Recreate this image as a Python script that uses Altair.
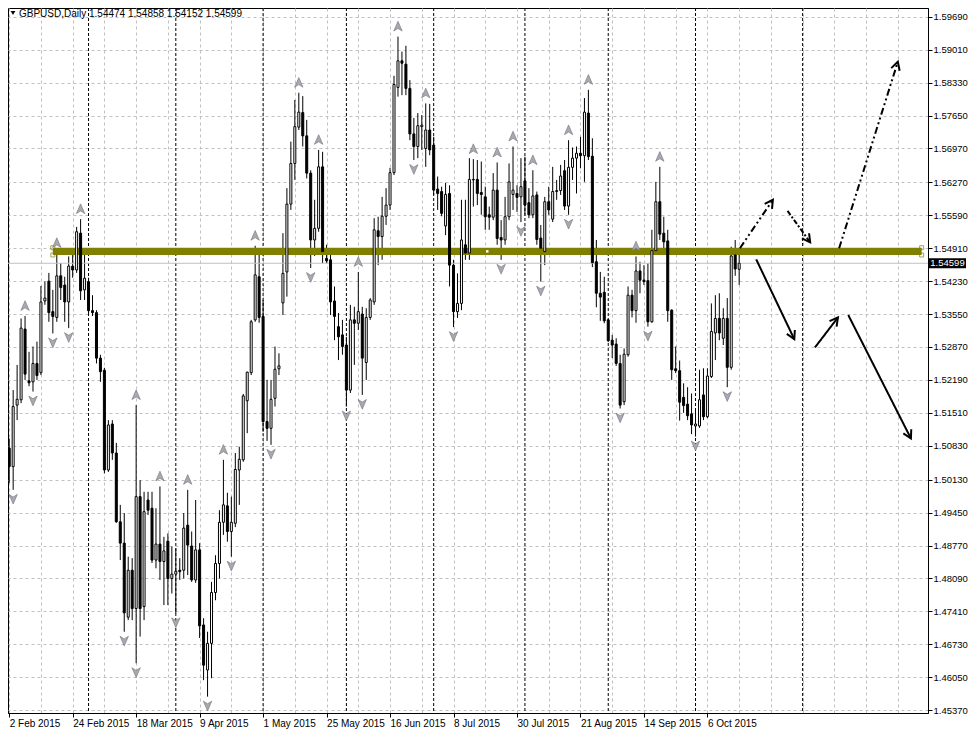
import math
import altair as alt
import pandas as pd

# ---------------- data ----------------
symbol = "GBPUSD,Daily"

opens = [1.5078, 1.5040, 1.5167, 1.5178, 1.5324, 1.5217, 1.5215, 1.5253, 1.5234, 1.5382,
         1.5423, 1.5360, 1.5348, 1.5434, 1.5415, 1.5380, 1.5454, 1.5446, 1.5522, 1.5405,
         1.5422, 1.5362, 1.5358, 1.5264, 1.5239, 1.5033, 1.5128, 1.5068, 1.4926, 1.4882,
         1.4729, 1.4826, 1.4747, 1.4978, 1.4751, 1.4971, 1.4954, 1.4847, 1.4880, 1.4844,
         1.4886, 1.4809, 1.4818, 1.4826, 1.4826, 1.4919, 1.4876, 1.4806, 1.4868, 1.4713,
         1.4620, 1.4675, 1.4780, 1.4840, 1.4925, 1.4959, 1.4906, 1.4923, 1.5033, 1.5054,
         1.5176, 1.5234, 1.5343, 1.5432, 1.5350, 1.5133, 1.5119, 1.5181, 1.5242, 1.5378,
         1.5442, 1.5582, 1.5666, 1.5741, 1.5771, 1.5723, 1.5646, 1.5508, 1.5532, 1.5659,
         1.5470, 1.5467, 1.5382, 1.5329, 1.5312, 1.5291, 1.5198, 1.5343, 1.5336, 1.5355,
         1.5255, 1.5348, 1.5380, 1.5527, 1.5515, 1.5557, 1.5580, 1.5647, 1.5823, 1.5878,
         1.5871, 1.5821, 1.5727, 1.5701, 1.5742, 1.5697, 1.5735, 1.5704, 1.5613, 1.5608,
         1.5537, 1.5604, 1.5456, 1.5360, 1.5377, 1.5498, 1.5481, 1.5632, 1.5633, 1.5606,
         1.5597, 1.5560, 1.5555, 1.5611, 1.5513, 1.5508, 1.5556, 1.5602, 1.5604, 1.5597,
         1.5630, 1.5585, 1.5560, 1.5601, 1.5512, 1.5484, 1.5587, 1.5551, 1.5608, 1.5610,
         1.5651, 1.5578, 1.5658, 1.5677, 1.5687, 1.5682, 1.5770, 1.5681, 1.5463, 1.5398,
         1.5400, 1.5343, 1.5301, 1.5293, 1.5253, 1.5174, 1.5271, 1.5394, 1.5362, 1.5444,
         1.5425, 1.5424, 1.5339, 1.5486, 1.5587, 1.5522, 1.5506, 1.5363, 1.5242, 1.5238,
         1.5183, 1.5169, 1.5149, 1.5124, 1.5124, 1.5188, 1.5143, 1.5226, 1.5316, 1.5346,
         1.5305, 1.5346, 1.5245, 1.5477, 1.54474]
highs = [1.5098, 1.5198, 1.5250, 1.5346, 1.5351, 1.5277, 1.5288, 1.5298, 1.5413, 1.5422,
         1.5440, 1.5405, 1.5481, 1.5460, 1.5432, 1.5474, 1.5481, 1.5535, 1.5551, 1.5487,
         1.5430, 1.5394, 1.5363, 1.5271, 1.5244, 1.5136, 1.5136, 1.5089, 1.4961, 1.4944,
         1.4854, 1.4851, 1.5167, 1.5012, 1.4988, 1.4988, 1.4988, 1.4954, 1.4999, 1.4895,
         1.4902, 1.4875, 1.4871, 1.4851, 1.4944, 1.4992, 1.4906, 1.4971, 1.4882, 1.4727,
         1.4699, 1.4802, 1.4857, 1.4950, 1.5054, 1.4986, 1.4978, 1.5068, 1.5081, 1.5190,
         1.5236, 1.5343, 1.5496, 1.5477, 1.5384, 1.5219, 1.5219, 1.5288, 1.5274, 1.5522,
         1.5615, 1.5711, 1.5797, 1.5812, 1.5805, 1.5756, 1.5652, 1.5591, 1.5694, 1.5690,
         1.5498, 1.5487, 1.5412, 1.5357, 1.5343, 1.5308, 1.5374, 1.5370, 1.5442, 1.5370,
         1.5367, 1.5388, 1.5553, 1.5556, 1.5597, 1.5615, 1.5657, 1.5847, 1.5928, 1.5897,
         1.5909, 1.5838, 1.5760, 1.5770, 1.5766, 1.5790, 1.5789, 1.5721, 1.5639, 1.5618,
         1.5626, 1.5621, 1.5467, 1.5439, 1.5591, 1.5591, 1.5677, 1.5675, 1.5673, 1.5670,
         1.5618, 1.5577, 1.5646, 1.5668, 1.5549, 1.5597, 1.5666, 1.5701, 1.5621, 1.5677,
         1.5680, 1.5615, 1.5652, 1.5608, 1.5539, 1.5597, 1.5618, 1.5659, 1.5632, 1.5663,
         1.5673, 1.5714, 1.5699, 1.5701, 1.5721, 1.5801, 1.5818, 1.5718, 1.5508, 1.5442,
         1.5432, 1.5345, 1.5312, 1.5305, 1.5271, 1.5284, 1.5412, 1.5405, 1.5474, 1.5463,
         1.5456, 1.5460, 1.5529, 1.5628, 1.5659, 1.5556, 1.5529, 1.5365, 1.5288, 1.5259,
         1.5212, 1.5204, 1.5191, 1.5157, 1.5240, 1.5243, 1.5243, 1.5377, 1.5394, 1.5398,
         1.5367, 1.5388, 1.5494, 1.5508, 1.54858]
lows = [1.5006, 1.4992, 1.5136, 1.5171, 1.5219, 1.5206, 1.5195, 1.5219, 1.5229, 1.5374,
        1.5339, 1.5315, 1.5339, 1.5384, 1.5339, 1.5326, 1.5430, 1.5440, 1.5384, 1.5384,
        1.5357, 1.5351, 1.5253, 1.5215, 1.5026, 1.5029, 1.5054, 1.4924, 1.4847, 1.4699,
        1.4723, 1.4723, 1.4634, 1.4689, 1.4723, 1.4940, 1.4841, 1.4830, 1.4806, 1.4754,
        1.4754, 1.4778, 1.4737, 1.4806, 1.4809, 1.4816, 1.4802, 1.4800, 1.4686, 1.4599,
        1.4565, 1.4603, 1.4764, 1.4809, 1.4899, 1.4885, 1.4854, 1.4915, 1.4961, 1.5050,
        1.5109, 1.5229, 1.5339, 1.5337, 1.5112, 1.5093, 1.5085, 1.5164, 1.5229, 1.5353,
        1.5391, 1.5570, 1.5632, 1.5735, 1.5701, 1.5635, 1.5450, 1.5475, 1.5525, 1.5460,
        1.5460, 1.5353, 1.5301, 1.5260, 1.5271, 1.5164, 1.5192, 1.5250, 1.5322, 1.5188,
        1.5219, 1.5343, 1.5374, 1.5456, 1.5467, 1.5539, 1.5570, 1.5642, 1.5804, 1.5807,
        1.5807, 1.5714, 1.5673, 1.5677, 1.5694, 1.5659, 1.5683, 1.5601, 1.5570, 1.5557,
        1.5518, 1.5412, 1.5328, 1.5347, 1.5363, 1.5467, 1.5467, 1.5577, 1.5580, 1.5560,
        1.5529, 1.5529, 1.5549, 1.5498, 1.5467, 1.5498, 1.5549, 1.5570, 1.5566, 1.5545,
        1.5560, 1.5553, 1.5553, 1.5498, 1.5422, 1.5456, 1.5560, 1.5545, 1.5591, 1.5601,
        1.5570, 1.5560, 1.5632, 1.5604, 1.5656, 1.5628, 1.5673, 1.5452, 1.5369, 1.5341,
        1.5336, 1.5297, 1.5264, 1.5248, 1.5160, 1.5167, 1.5267, 1.5348, 1.5337, 1.5398,
        1.5415, 1.5329, 1.5337, 1.5483, 1.5508, 1.5477, 1.5339, 1.5219, 1.5233, 1.5135,
        1.5151, 1.5136, 1.5107, 1.5102, 1.5120, 1.5136, 1.5140, 1.5223, 1.5260, 1.5301,
        1.5291, 1.5204, 1.5240, 1.5434, 1.54152]
closes = [1.5040, 1.5164, 1.5179, 1.5326, 1.5231, 1.5213, 1.5253, 1.5228, 1.5380, 1.5388,
          1.5358, 1.5350, 1.5434, 1.5410, 1.5380, 1.5454, 1.5446, 1.5525, 1.5403, 1.5429,
          1.5362, 1.5358, 1.5264, 1.5236, 1.5033, 1.5126, 1.5068, 1.4926, 1.4882, 1.4738,
          1.4826, 1.4747, 1.4978, 1.4747, 1.4947, 1.4950, 1.4847, 1.4880, 1.4844, 1.4866,
          1.4809, 1.4818, 1.4824, 1.4823, 1.4913, 1.4878, 1.4806, 1.4868, 1.4711, 1.4630,
          1.4675, 1.4780, 1.4840, 1.4925, 1.4961, 1.4906, 1.4925, 1.5034, 1.5055, 1.5186,
          1.5235, 1.5339, 1.5436, 1.5348, 1.5133, 1.5119, 1.5179, 1.5241, 1.5248, 1.5439,
          1.5582, 1.5666, 1.5742, 1.5772, 1.5723, 1.5646, 1.5508, 1.5532, 1.5659, 1.5484,
          1.5465, 1.5380, 1.5350, 1.5308, 1.5288, 1.5198, 1.5343, 1.5336, 1.5360, 1.5264,
          1.5348, 1.5384, 1.5529, 1.5515, 1.5557, 1.5580, 1.5647, 1.5829, 1.5878, 1.5873,
          1.5821, 1.5727, 1.5701, 1.5744, 1.5745, 1.5735, 1.5694, 1.5611, 1.5604, 1.5563,
          1.5602, 1.5456, 1.5360, 1.5377, 1.5508, 1.5481, 1.5633, 1.5633, 1.5604, 1.5602,
          1.5556, 1.5555, 1.5611, 1.5511, 1.5508, 1.5556, 1.5628, 1.5611, 1.5596, 1.5618,
          1.5580, 1.5560, 1.5599, 1.5509, 1.5491, 1.5587, 1.5570, 1.5608, 1.5610, 1.5640,
          1.5578, 1.5658, 1.5677, 1.5687, 1.5682, 1.5772, 1.5680, 1.5461, 1.5398, 1.5390,
          1.5341, 1.5300, 1.5291, 1.5253, 1.5167, 1.5272, 1.5394, 1.5362, 1.5444, 1.5425,
          1.5422, 1.5339, 1.5486, 1.5587, 1.5520, 1.5504, 1.5362, 1.5240, 1.5238, 1.5173,
          1.5166, 1.5145, 1.5126, 1.5128, 1.5178, 1.5143, 1.5227, 1.5319, 1.5346, 1.5316,
          1.5346, 1.5245, 1.5475, 1.5448, 1.54599]

fractal_up_bars = [4, 12, 18, 32, 38, 45, 54, 62, 73, 78, 88, 98, 105, 117, 123, 127,
                   132, 141, 146, 158, 164]
fractal_down_bars = [1, 6, 11, 15, 29, 32, 42, 50, 56, 66, 76, 85, 89, 102, 112, 124,
                     129, 134, 141, 154, 161, 173, 181]

date_label_bars = [0, 16, 32, 48, 64, 80, 96, 112, 128, 144, 160, 176]
date_label_texts = ["2 Feb 2015", "24 Feb 2015", "18 Mar 2015", "9 Apr 2015", "1 May 2015",
                    "25 May 2015", "16 Jun 2015", "8 Jul 2015", "30 Jul 2015", "21 Aug 2015",
                    "14 Sep 2015", "6 Oct 2015"]
price_ticks = [1.59690, 1.59010, 1.58330, 1.57650, 1.56970, 1.56270, 1.55590, 1.54910,
               1.54230, 1.53550, 1.52870, 1.52190, 1.51510, 1.50830, 1.50130, 1.49450,
               1.48770, 1.48090, 1.47410, 1.46730, 1.46050, 1.45370]
grid_bars = list(range(0, 233, 8))
month_start_bars = [20, 42, 64, 85, 107, 130, 151, 173, 200]

# horizontal level (olive band) and its handles
level_start, level_end = 11, 230
level_top, level_bottom = 1.5492, 1.5477

# drawn arrows: start (bar, price) -> end (bar, price), line style
arrow_x1 = [184.2, 196.2, 209.2, 188.3, 203.1, 211.5]
arrow_p1 = [1.5491, 1.5568, 1.5491, 1.5468, 1.5286, 1.5353]
arrow_x2 = [192.5, 201.9, 224.0, 197.9, 208.9, 227.3]
arrow_p2 = [1.5591, 1.5503, 1.5876, 1.5303, 1.5348, 1.5098]
arrow_style = ["dashdot", "dash", "dashdot", "solid", "solid", "solid"]

# ---------------- layout ----------------
W, H = 920, 705
PAD_R, PAD_B = 40, 18
x_dom = [-0.3, 231.6]
y_dom = [1.45312, 1.59870]
FONT = "Liberation Sans"
xs = alt.Scale(domain=x_dom, nice=False, zero=False, padding=0)
ys = alt.Scale(domain=y_dom, nice=False, zero=False, padding=0)

n = len(opens)
candles = pd.DataFrame({"i": list(range(n)), "o": opens, "h": highs, "l": lows, "c": closes})
fu = pd.DataFrame({"i": fractal_up_bars, "p": [highs[k] for k in fractal_up_bars]})
fd = pd.DataFrame({"i": fractal_down_bars, "p": [lows[k] for k in fractal_down_bars]})

arr_lines, heads = [], []
ppb = W / (x_dom[1] - x_dom[0])
ppp = H / (y_dom[1] - y_dom[0])
for k in range(len(arrow_x1)):
    arr_lines.append({"id": k, "ord": 0, "x": arrow_x1[k], "p": arrow_p1[k], "s": arrow_style[k]})
    arr_lines.append({"id": k, "ord": 1, "x": arrow_x2[k], "p": arrow_p2[k], "s": arrow_style[k]})
    dx = (arrow_x2[k] - arrow_x1[k]) * ppb
    dy = (arrow_p2[k] - arrow_p1[k]) * ppp
    heads.append({"x": arrow_x2[k], "p": arrow_p2[k], "ang": math.degrees(math.atan2(dx, dy)) % 360})
arr_df = pd.DataFrame(arr_lines)
head_df = pd.DataFrame(heads)

lbl_arr = "[" + ",".join("'%s'" % t for t in date_label_texts) + "]"
bar_arr = "[" + ",".join(str(b) for b in date_label_bars) + "]"
label_expr = "indexof(%s, datum.value) >= 0 ? %s[indexof(%s, datum.value)] : ''" % (bar_arr, lbl_arr, bar_arr)

x_axis = alt.Axis(values=[g for g in grid_bars if g <= x_dom[1]], grid=True, gridColor="#c0c0c0",
                  gridDash=[3, 3], labelExpr=label_expr, labelAlign="left", labelBaseline="top",
                  labelPadding=1, labelFont=FONT, labelFontSize=10, labelColor="black",
                  labelOverlap=False, labelFlush=False, labelBound=False,
                  tickSize=4, tickColor="black",
                  tickOpacity={"condition": {"test": "indexof(%s, datum.value) >= 0" % bar_arr, "value": 1}, "value": 0},
                  domainColor="black", title=None)
y_axis = alt.Axis(orient="right", values=price_ticks, format=".5f", grid=True,
                  gridColor="#c0c0c0", gridDash=[3, 3], labelFont=FONT, labelFontSize=9.5,
                  labelColor="black", labelPadding=1, labelOverlap=False, labelFlush=False,
                  tickSize=4, tickColor="black", domainColor="black", title=None)


def X(f):
    return alt.X(f, scale=xs, axis=x_axis)


def Y(f):
    return alt.Y(f, scale=ys, axis=y_axis)


wicks = alt.Chart(candles).mark_rule(color="black", strokeWidth=1, clip=True).encode(
    x=X("i:Q"), y=Y("l:Q"), y2="h:Q")

bodies = alt.Chart(candles).mark_bar(size=2, stroke="black", strokeWidth=1, clip=True).encode(
    x=X("i:Q"), y=Y("o:Q"), y2="c:Q",
    fill=alt.condition("datum.c >= datum.o", alt.value("white"), alt.value("black")))

seps = alt.Chart(pd.DataFrame({"i": month_start_bars})).mark_rule(
    color="black", strokeDash=[3, 2], strokeWidth=1).encode(x=X("i:Q"))

bid = alt.Chart(pd.DataFrame({"p": [closes[-1]]})).mark_rule(color="#c0c0c0", strokeWidth=1).encode(
    y=Y("p:Q"))

band = alt.Chart(pd.DataFrame({"x1": [level_start], "x2": [level_end],
                               "t": [level_top], "b": [level_bottom]})).mark_rect(
    color="#808000").encode(x=X("x1:Q"), x2="x2:Q", y=Y("t:Q"), y2="b:Q")

handles = alt.Chart(pd.DataFrame({"x": [level_start, level_start, level_end, level_end],
                                  "p": [level_top, level_bottom, level_top, level_bottom]})).mark_point(
    shape="square", size=16, filled=False, color="#808000", strokeWidth=1, clip=True).encode(
    x=X("x:Q"), y=Y("p:Q"))
mid_handle = alt.Chart(pd.DataFrame({"x": [(level_start + level_end) / 2],
                                     "p": [(level_top + level_bottom) / 2]})).mark_point(
    shape="square", size=6, filled=True, color="white", opacity=1).encode(x=X("x:Q"), y=Y("p:Q"))

up_shape = "M0,-1L0.8,0.85L0,0.35L-0.8,0.85Z"
dn_shape = "M0,1L0.8,-0.85L0,-0.35L-0.8,-0.85Z"
frac_up = alt.Chart(fu).mark_point(shape=up_shape, size=110, filled=True, fill="#a9a9b2",
                                   stroke="#70707a", strokeWidth=0.6, opacity=1, yOffset=-10).encode(
    x=X("i:Q"), y=Y("p:Q"))
frac_dn = alt.Chart(fd).mark_point(shape=dn_shape, size=110, filled=True, fill="#a9a9b2",
                                   stroke="#70707a", strokeWidth=0.6, opacity=1, yOffset=9).encode(
    x=X("i:Q"), y=Y("p:Q"))

dash_map = {"solid": [1, 0], "dash": [5, 2, 2, 2], "dashdot": [7, 3, 2, 3, 2, 3]}
arrow_layers = []
for s, d in dash_map.items():
    sub = arr_df[arr_df["s"] == s]
    arrow_layers.append(alt.Chart(sub).mark_line(color="black", strokeWidth=2, strokeDash=d).encode(
        x=X("x:Q"), y=Y("p:Q"), detail="id:N", order="ord:Q"))

chevron = "M-0.55,1L0,0L0.55,1"
arrow_heads = alt.Chart(head_df).mark_point(shape=chevron, size=260, filled=False, color="black",
                                            strokeWidth=2, opacity=1).encode(
    x=X("x:Q"), y=Y("p:Q"), angle=alt.Angle("ang:Q", scale=None))

price_box = alt.Chart(pd.DataFrame({"p": [closes[-1]]})).mark_point(
    shape="M-1.85,-0.5H1.85V0.5H-1.85Z", size=400, filled=True, color="black", opacity=1,
    clip=False).encode(x=alt.value(W + 19.5), y=Y("p:Q"))
price_txt = alt.Chart(pd.DataFrame({"p": [closes[-1]]})).mark_text(
    color="white", font=FONT, fontSize=9.5, align="center", baseline="middle").encode(
    x=alt.value(W + 19.5), y=Y("p:Q"), text=alt.Text("p:Q", format=".5f"))

title_str = "%s %.5f %.5f %.5f %.5f" % (symbol, opens[-1], highs[-1], lows[-1], closes[-1])
title_txt = alt.Chart(pd.DataFrame({"t": [title_str]})).mark_text(
    font=FONT, fontSize=10, color="black", align="left", baseline="top").encode(
    x=alt.value(11), y=alt.value(1), text="t:N")
title_tri = alt.Chart(pd.DataFrame({"t": [symbol]})).mark_point(
    shape="triangle-down", size=22, filled=True, color="black", opacity=1).encode(
    x=alt.value(5), y=alt.value(5))

chart = alt.layer(
    wicks, seps, bid, band, handles, mid_handle, bodies, frac_up, frac_dn,
    *arrow_layers, arrow_heads, price_box, price_txt, title_tri, title_txt,
).properties(
    width=W, height=H,
    padding={"left": 0, "top": 0, "right": PAD_R, "bottom": PAD_B},
    autosize=alt.AutoSizeParams(type="none"),
    background="white",
).configure_view(stroke="black", strokeWidth=1)

chart.save("out.html", embed_options={"renderer": "svg", "actions": False})
